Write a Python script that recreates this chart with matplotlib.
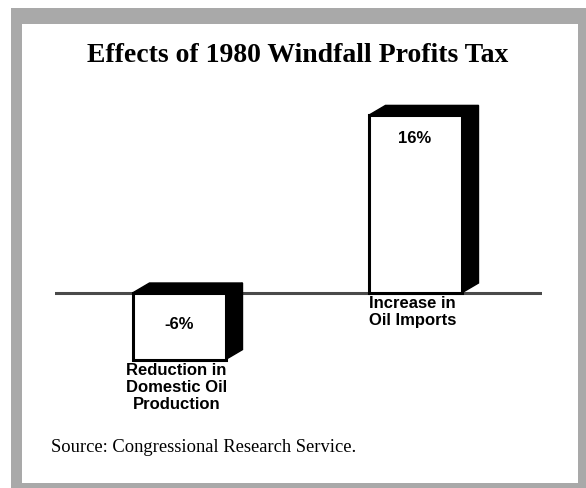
import matplotlib
matplotlib.use("Agg")
import matplotlib.pyplot as plt
from matplotlib.patches import Rectangle, Polygon

categories = ["Reduction in\nDomestic Oil\nProduction", "Increase in\nOil Imports"]
values = [-6, 16]
value_labels = ["-6%", "16%"]
title = "Effects of 1980 Windfall Profits Tax"
source = "Source: Congressional Research Service."

W, H = 586, 488
fig = plt.figure(figsize=(W / 100, H / 100), dpi=100)
fig.patch.set_facecolor("white")

def px_rect(x0, y0, x1, y1, **kw):
    # pixel coords from top-left
    fig.patches.append(Rectangle((x0 / W, 1 - y1 / H), (x1 - x0) / W, (y1 - y0) / H,
                                 transform=fig.transFigure, figure=fig, **kw))

gray = "#a9a9a9"
px_rect(11, 8, 586, 24, color=gray, lw=0)     # top
px_rect(11, 8, 22, 488, color=gray, lw=0)     # left
px_rect(578, 8, 586, 488, color=gray, lw=0)   # right
px_rect(11, 483, 586, 488, color=gray, lw=0)  # bottom

# axes: baseline at y=293px, 11.1 px per unit; x: bar centers 179 and 415 px
k = 11.1
ylo, yhi = -15, 20
ax_bot = 293 + (-ylo) * k
ax_top = 293 - yhi * k
xs = 236.0
xlo, xhi = (55 - 179) / xs, (542 - 179) / xs
ax = fig.add_axes([55 / W, 1 - ax_bot / H, (542 - 55) / W, (ax_bot - ax_top) / H])
ax.set_xlim(xlo, xhi)
ax.set_ylim(ylo, yhi)
ax.axis("off")

ax.axhline(0, color="#4a4a4a", lw=2.2, zorder=1)

bw = 93 / xs
dx = 17 / xs
dy = 10 / k
pos = list(range(len(values)))
for i, v in zip(pos, values):
    x0, x1 = i - bw / 2, i + bw / 2
    top = max(v, 0)
    bot = min(v, 0)
    # top face
    ax.add_patch(Polygon([(x0, top), (x0 + dx, top + dy), (x1 + dx, top + dy), (x1, top)],
                         closed=True, fc="black", ec="black", lw=1, zorder=2))
    # side face
    ax.add_patch(Polygon([(x1, top), (x1 + dx, top + dy), (x1 + dx, bot + dy), (x1, bot)],
                         closed=True, fc="black", ec="black", lw=1, zorder=2))
ax.bar(pos, values, width=bw, color="white", edgecolor="black", linewidth=2.2, zorder=3)

for i, (v, lab) in enumerate(zip(values, value_labels)):
    ty = v - 2.1 if v > 0 else v / 2 + 0.2
    ax.text(i, ty, lab, ha="center", va="center", fontsize=12, fontweight="bold",
            family="Liberation Sans", zorder=4)

# category labels
for i, (v, c) in enumerate(zip(values, categories)):
    base = min(v, 0)
    ax.text(i - 0.01, base - 0.3, c, ha="center", va="top", fontsize=12, fontweight="bold",
            family="Liberation Sans", linespacing=1.15, zorder=4)

fig.text(298 / W, 1 - 56 / H, title, ha="center", va="center", fontsize=20,
         fontweight="bold", family="Liberation Serif")
fig.text(51 / W, 1 - 447 / H, source, ha="left", va="center", fontsize=13.3,
         family="Liberation Serif")

fig.savefig("out.png", dpi=100, facecolor="white")
